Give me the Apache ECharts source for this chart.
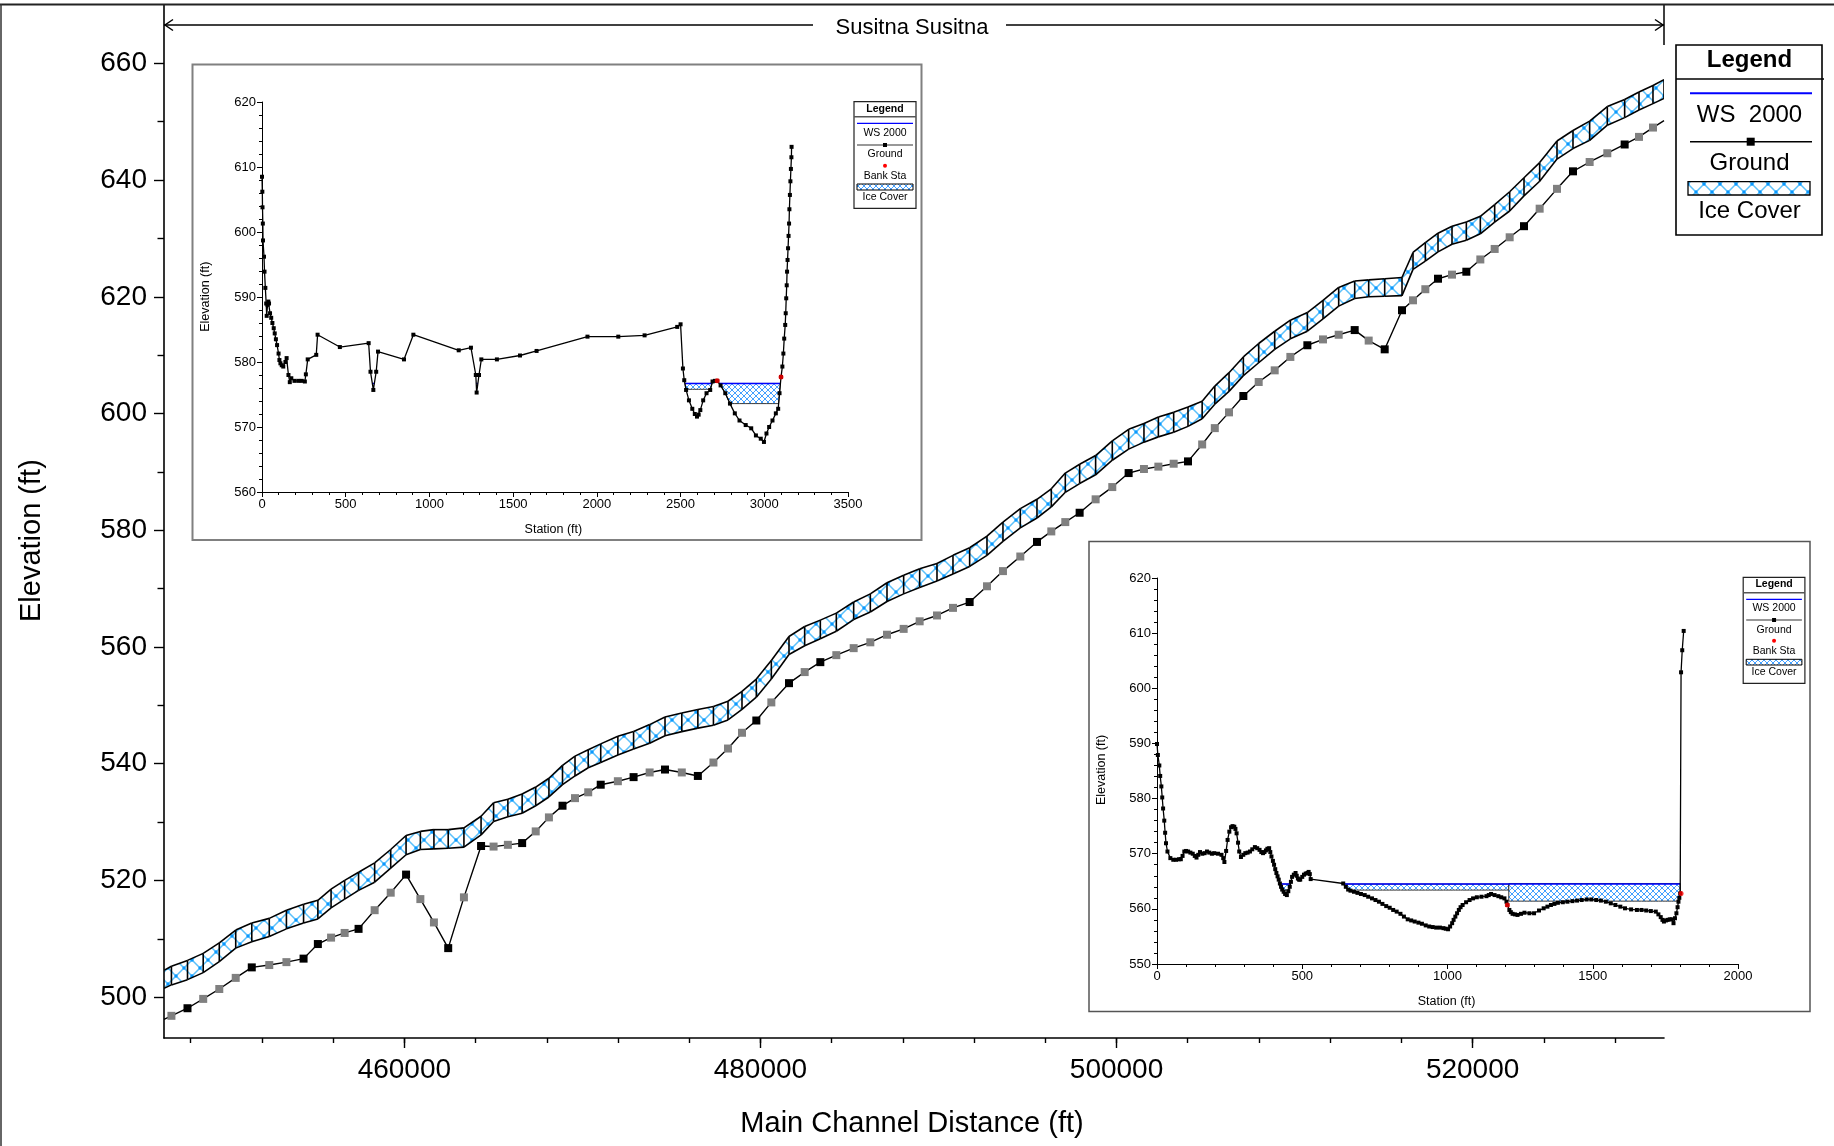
<!DOCTYPE html>
<html>
<head>
<meta charset="utf-8">
<title>Susitna ice cover profile</title>
<script src="https://cdn.jsdelivr.net/npm/echarts/dist/echarts.min.js"></script>
<style>
  html, body { margin: 0; padding: 0; background: #ffffff; }
  #chart { width: 1834px; height: 1146px; }
</style>
</head>
<body>
<div id="chart"></div>
<script>
const FONT = "'Liberation Sans', Arial, Helvetica, sans-serif";

// ---------- Main profile: Susitna reach ----------
// River stations of the cross sections (ft, main channel distance)
const stations = [
  446500, 446917, 447820, 448702, 449605, 450528, 451430, 452413, 453376, 454339,
  455142, 455884, 456646, 457428, 458331, 459234, 460096, 460899, 461661, 462463,
  463346, 464309, 465011, 465814, 466616, 467378, 468120, 468883, 469585, 470327,
  471029, 471992, 472875, 473777, 474640, 475583, 476485, 477360, 478178, 478964,
  479769, 480612, 481604, 482484, 483364, 484262, 485236, 486172, 487108, 488044,
  488942, 489916, 490814, 491750, 492724, 493622, 494596, 495532, 496337, 497123,
  497928, 498826, 499762, 500680, 501541, 502350, 503210, 504015, 504810, 505520,
  506319, 507124, 507985, 508884, 509764, 510719, 511598, 512478, 513377, 514163,
  515062, 516035, 516653, 517345, 518057, 518843, 519648, 520434, 521239, 522082,
  522887, 523766, 524740, 525638, 526574, 527566, 528540, 529345, 530131, 530750
];
// Minimum channel (ground) elevation at each section (ft)
const groundElev = [
  496.2, 496.8, 498.1, 499.7, 501.4, 503.3, 505.1, 505.5, 506.0, 506.6,
  509.1, 510.2, 511.0, 511.7, 514.9, 517.9, 521.0, 516.8, 512.8, 508.4,
  517.1, 525.9, 525.8, 526.1, 526.4, 528.4, 530.8, 532.8, 534.1, 535.1,
  536.4, 537.0, 537.7, 538.5, 539.0, 538.5, 537.9, 540.2, 542.6, 545.3,
  547.4, 550.5, 553.8, 555.7, 557.4, 558.6, 559.8, 560.8, 562.1, 563.1,
  564.4, 565.4, 566.7, 567.7, 570.4, 573.0, 575.5, 578.0, 579.8, 581.4,
  583.0, 585.3, 587.4, 589.8, 590.5, 590.9, 591.4, 591.8, 594.7, 597.5,
  600.2, 603.0, 605.4, 607.4, 609.7, 611.7, 612.7, 613.5, 614.3, 612.5,
  611.0, 617.7, 619.4, 621.3, 623.1, 623.8, 624.3, 626.4, 628.2, 630.2,
  632.1, 635.1, 638.5, 641.5, 643.1, 644.6, 646.1, 647.4, 649.0, 650.2
];
// Top of ice cover (ft)
const iceTopElev = [
  504.6, 505.3, 506.3, 507.5, 509.3, 511.5, 512.7, 513.5, 514.9, 515.9,
  516.6, 518.5, 520.0, 521.4, 523.0, 525.3, 527.7, 528.4, 528.7, 528.7,
  529.0, 531.0, 533.3, 533.9, 534.8, 536.0, 537.5, 539.7, 541.3, 542.4,
  543.4, 544.7, 545.5, 546.7, 548.0, 548.7, 549.3, 549.8, 550.7, 552.4,
  554.5, 557.7, 561.8, 563.5, 564.6, 565.8, 567.7, 569.1, 571.0, 572.3,
  573.4, 574.3, 575.7, 577.0, 579.0, 581.4, 583.7, 585.3, 587.1, 589.8,
  591.3, 592.8, 595.3, 597.3, 598.3, 599.4, 600.2, 601.1, 602.1, 604.7,
  607.0, 609.7, 612.0, 614.1, 616.0, 617.3, 619.4, 621.6, 622.7, 622.9,
  623.1, 623.3, 627.6, 629.3, 630.9, 632.1, 632.8, 633.8, 635.8, 638.0,
  640.4, 643.0, 646.7, 648.5, 650.1, 652.6, 653.8, 655.1, 656.2, 657.2
];
// Bottom of ice cover (ft)
const iceBottomElev = [
  501.5, 502.1, 503.0, 504.2, 506.1, 508.4, 509.5, 510.4, 511.7, 512.7,
  513.4, 515.3, 516.8, 518.3, 519.7, 522.1, 524.4, 525.3, 525.4, 525.5,
  525.7, 527.8, 530.1, 530.9, 531.5, 532.8, 534.3, 536.4, 537.9, 539.3,
  540.2, 541.5, 542.5, 543.5, 544.8, 545.5, 546.1, 546.6, 547.5, 549.3,
  551.4, 554.5, 558.7, 560.2, 561.4, 562.7, 564.7, 566.0, 567.8, 569.1,
  570.2, 571.3, 572.5, 573.8, 575.7, 578.1, 580.4, 582.1, 584.0, 586.5,
  588.0, 589.5, 592.0, 593.9, 595.1, 596.0, 596.8, 597.8, 599.1, 601.6,
  603.8, 606.5, 608.7, 611.0, 612.8, 614.1, 616.2, 618.4, 619.7, 620.0,
  620.1, 620.2, 624.7, 626.1, 627.7, 629.0, 629.7, 630.8, 632.8, 634.7,
  637.3, 639.8, 643.6, 645.4, 646.8, 649.4, 650.7, 652.0, 653.1, 654.0
];
// Surveyed sections (the rest are interpolated sections)
const surveyedSections = [2, 6, 9, 10, 13, 16, 19, 21, 24, 27, 30, 32, 34, 36, 40, 42, 44,
  53, 57, 60, 63, 67, 71, 75, 78, 80, 81, 84, 86, 90, 93, 96];

const xRange = [446500, 530750];
const yRange = [493, 670];
const xLabelTicks = [460000, 480000, 500000, 520000];
const yLabelTicks = [500, 520, 540, 560, 580, 600, 620, 640, 660];
const reachName = 'Susitna Susitna';

// ---------- Cross section A (upper inset) ----------
const xsA_station = [
  0, 2, 3, 5, 6, 12, 15, 20, 25, 28, 33, 38, 42, 48, 55, 62, 70, 76, 83, 90,
  99, 104, 110, 118, 127, 140, 147, 158, 166, 175, 194, 217, 237, 256, 262, 273, 324, 332, 465, 637,
  648, 665, 682, 693, 848, 904, 1175, 1248, 1277, 1282, 1296, 1310, 1403, 1541, 1640, 1944, 2128, 2285, 2480, 2500,
  2514, 2522, 2533, 2550, 2570, 2585, 2598, 2608, 2618, 2635, 2655, 2677, 2691, 2705, 2719, 2739, 2767, 2795, 2824, 2852,
  2889, 2922, 2950, 2979, 2998, 3013, 3029, 3049, 3069, 3083, 3091, 3100, 3108, 3114, 3119, 3125, 3128, 3131, 3134, 3136,
  3139, 3142, 3145, 3148, 3150, 3153, 3156, 3159, 3162, 3163
];
const xsA_elev = [
  608.5, 606.2, 603.8, 601.3, 598.7, 596.2, 593.9, 591.4, 589.0, 587.1, 588.8, 589.3, 589.0, 587.5, 586.8, 586.0, 585.2, 584.4, 583.5, 582.6,
  581.3, 580.3, 579.8, 579.5, 579.3, 580.0, 580.6, 578.0, 576.9, 577.5, 577.1, 577.1, 577.1, 577.0, 578.1, 580.4, 581.1, 584.2, 582.3, 582.9,
  578.5, 575.7, 578.5, 581.6, 580.4, 584.2, 581.8, 582.2, 578.0, 575.3, 578.0, 580.4, 580.4, 581.0, 581.7, 583.9, 583.9, 584.1, 585.4, 585.8,
  579.0, 577.2, 575.7, 574.1, 572.8, 572.0, 571.6, 571.9, 572.6, 574.1, 575.2, 575.7, 577.0, 577.1, 577.1, 576.4, 575.2, 573.6, 572.1, 571.0,
  570.3, 569.8, 568.7, 568.2, 567.7, 569.0, 570.0, 571.0, 572.1, 572.8, 575.2, 577.7, 579.3, 581.3, 583.6, 585.7, 587.5, 589.8, 591.8, 593.9,
  595.7, 597.5, 599.4, 601.3, 603.5, 605.7, 607.8, 609.7, 611.5, 613.1
];
const xsA_bankSta = [[2719, 577.1], [3100, 577.7]];
const xsA_ws = 576.7;
// Ice sheets: [from station, to station, top elevation, bottom elevation]
const xsA_ice = [[2522, 2700, 576.7, 575.8], [2705, 3100, 576.7, 573.6]];
const xsA_xTicks = [0, 3500, 500];
const xsA_yTicks = [560, 620, 10];

// ---------- Cross section B (lower inset) ----------
const xsB_station = [
  0, 3, 8, 11, 15, 18, 21, 25, 28, 31, 36, 46, 56, 66, 76, 82, 88, 94, 100, 107,
  115, 123, 130, 136, 142, 148, 156, 164, 172, 180, 189, 197, 210, 222, 228, 232, 238, 243, 249, 255,
  260, 266, 270, 274, 279, 283, 289, 297, 304, 312, 320, 328, 337, 345, 353, 359, 365, 370, 375, 380,
  386, 390, 394, 399, 403, 407, 411, 415, 419, 423, 427, 431, 436, 441, 447, 452, 457, 461, 465, 471,
  477, 481, 485, 489, 493, 500, 506, 512, 518, 522, 526, 529, 641, 650, 658, 666, 678, 690, 702, 715,
  727, 740, 752, 764, 776, 789, 801, 813, 825, 838, 850, 863, 875, 887, 900, 912, 925, 937, 949, 961,
  974, 986, 994, 1002, 1009, 1016, 1021, 1027, 1033, 1039, 1045, 1052, 1064, 1076, 1088, 1101, 1117, 1134, 1142, 1150,
  1162, 1175, 1185, 1196, 1203, 1206, 1213, 1218, 1224, 1232, 1241, 1253, 1265, 1282, 1298, 1315, 1331, 1344, 1356, 1368,
  1380, 1397, 1413, 1430, 1446, 1462, 1479, 1495, 1512, 1528, 1545, 1562, 1578, 1595, 1611, 1632, 1652, 1668, 1684, 1700,
  1717, 1726, 1734, 1740, 1745, 1752, 1758, 1765, 1772, 1778, 1783, 1788, 1792, 1795, 1798, 1801, 1804, 1808, 1813
];
const xsB_elev = [
  589.9, 587.9, 586.0, 584.1, 582.2, 580.2, 578.2, 576.0, 573.8, 571.9, 570.4, 569.2, 568.9, 568.9, 569.0, 569.0, 569.6, 570.4, 570.5, 570.4,
  570.2, 570.0, 569.6, 569.3, 569.8, 570.3, 570.0, 570.1, 570.4, 570.2, 570.0, 570.1, 570.0, 569.8, 569.2, 568.5, 570.5, 572.5, 574.0, 574.8,
  575.0, 574.9, 574.5, 573.7, 572.0, 570.4, 569.4, 569.8, 570.1, 570.2, 570.4, 570.8, 571.2, 571.0, 570.7, 570.3, 570.1, 570.3, 570.6, 570.9,
  571.0, 570.3, 569.5, 568.7, 568.0, 567.2, 566.5, 565.9, 565.3, 564.6, 564.0, 563.5, 563.1, 562.7, 562.5, 563.2, 564.0, 564.9, 565.8, 566.2,
  566.5, 566.0, 565.5, 565.3, 565.3, 565.8, 566.2, 566.4, 566.5, 566.7, 566.3, 565.4, 564.6, 564.0, 563.5, 563.3, 563.1, 562.9, 562.7, 562.5,
  562.2, 561.9, 561.6, 561.3, 560.9, 560.5, 560.2, 559.8, 559.5, 559.1, 558.6, 558.1, 557.9, 557.7, 557.5, 557.3, 557.0, 556.8, 556.7, 556.6,
  556.6, 556.5, 556.4, 556.3, 556.8, 557.4, 558.0, 558.6, 559.2, 559.8, 560.3, 560.7, 561.2, 561.6, 561.9, 562.1, 562.2, 562.3, 562.5, 562.7,
  562.5, 562.3, 562.1, 561.9, 561.3, 560.7, 559.8, 559.4, 559.1, 559.0, 558.9, 559.1, 559.3, 559.2, 559.2, 559.7, 560.1, 560.4, 560.7, 560.9,
  561.1, 561.2, 561.3, 561.4, 561.5, 561.6, 561.7, 561.7, 561.6, 561.5, 561.3, 561.0, 560.7, 560.4, 560.1, 559.9, 559.8, 559.8, 559.7, 559.6,
  559.5, 559.0, 558.5, 558.0, 557.7, 557.9, 558.0, 558.1, 558.1, 557.4, 558.3, 559.2, 560.3, 561.3, 562.0, 562.8, 602.9, 606.9, 610.4
];
const xsB_bankSta = [[1206, 560.7], [1804, 562.8]];
const xsB_ws = 564.5;
const xsB_ice = [[400, 1211, 564.5, 563.4], [1211, 1801, 564.6, 561.4]];
const xsB_xTicks = [0, 2000, 500];
const xsB_yTicks = [550, 620, 10];

// ---------- helpers ----------
function makeHatch(size, lineColor, lineWidth, dotColor, dotR) {
  const c = document.createElement('canvas');
  c.width = size; c.height = size;
  const g = c.getContext('2d');
  g.fillStyle = '#ffffff';
  g.fillRect(0, 0, size, size);
  g.strokeStyle = lineColor;
  g.lineWidth = lineWidth;
  g.beginPath();
  for (const d of [-size, 0, size]) {
    g.moveTo(d, 0); g.lineTo(d + size, size);
    g.moveTo(d + size, 0); g.lineTo(d, size);
  }
  g.stroke();
  if (dotColor) {
    g.fillStyle = dotColor;
    for (const [px, py] of [[size / 2, size / 2], [0, 0], [size, 0], [0, size], [size, size]]) {
      g.beginPath(); g.arc(px, py, dotR, 0, Math.PI * 2); g.fill();
    }
  }
  return { image: c, repeat: 'repeat' };
}
const bigHatch = makeHatch(16, '#5cc0fa', 1.5, '#0a98ff', 1.7);
const smallHatch = makeHatch(6, '#2f95ff', 0.9, null, 0);

function groundAt(st, el, x) {
  for (let i = 0; i < st.length - 1; i++) {
    if (st[i + 1] > st[i] && x >= st[i] && x <= st[i + 1]) {
      return el[i] + (el[i + 1] - el[i]) * (x - st[i]) / (st[i + 1] - st[i]);
    }
  }
  return x < st[0] ? el[0] : el[el.length - 1];
}

// Outlines of an ice sheet in a cross section: flat top, underside follows
// the sheet bottom or the ground, whichever is higher. One outline per
// stretch where the sheet actually has thickness.
function iceOutlines(st, el, sheet) {
  const [from, to, top, bot] = sheet;
  const xs = new Set([from, to]);
  for (let i = 0; i < st.length; i++) if (st[i] > from && st[i] < to) xs.add(st[i]);
  for (let i = 0; i < st.length - 1; i++) {
    if (st[i + 1] <= st[i]) continue;
    for (const lvl of [top, bot]) {
      const a = el[i] - lvl, b = el[i + 1] - lvl;
      if (a * b < 0) {
        const x = st[i] + (st[i + 1] - st[i]) * a / (a - b);
        if (x > from && x < to) xs.add(x);
      }
    }
  }
  const sorted = Array.from(xs).sort((p, q) => p - q);
  const lower = sorted.map(x => [x, Math.min(top, Math.max(bot, groundAt(st, el, x)))]);
  const outlines = [];
  let run = null;
  for (let i = 0; i < lower.length - 1; i++) {
    const wet = lower[i][1] < top - 1e-6 || lower[i + 1][1] < top - 1e-6;
    if (wet) {
      if (!run) run = [lower[i]];
      run.push(lower[i + 1]);
    } else if (run) {
      outlines.push(run); run = null;
    }
  }
  if (run) outlines.push(run);
  return outlines.map(r => [[r[0][0], top], [r[r.length - 1][0], top]].concat(r.slice().reverse()));
}

// Water surface drawn only over the wetted parts of the section
function wsLine(st, el, ws) {
  const pts = [];
  for (let i = 0; i < st.length - 1; i++) {
    const a = el[i] - ws, b = el[i + 1] - ws;
    if ((a >= 0) !== (b >= 0)) {
      const x = st[i + 1] === st[i] ? st[i] : st[i] + (st[i + 1] - st[i]) * a / (a - b);
      pts.push([x, ws]);
      if (b >= 0) pts.push([x, '-']);
    }
  }
  return pts;
}

const N = stations.length;
const surveyed = new Set(surveyedSections);

// ---------- series ----------
const mainIce = {
  type: 'custom', xAxisIndex: 0, yAxisIndex: 0, z: 3, silent: true, clip: true,
  data: stations.map((s, i) => [s, iceTopElev[i], iceBottomElev[i]]),
  encode: { x: 0, y: [1, 2] },
  renderItem: function (params, api) {
    const i = params.dataIndex;
    const t0 = api.coord([stations[i], iceTopElev[i]]);
    const b0 = api.coord([stations[i], iceBottomElev[i]]);
    const kids = [];
    if (i < N - 1) {
      const t1 = api.coord([stations[i + 1], iceTopElev[i + 1]]);
      const b1 = api.coord([stations[i + 1], iceBottomElev[i + 1]]);
      kids.push({ type: 'polygon', z2: 1, shape: { points: [t0, t1, b1, b0] }, style: { fill: bigHatch, stroke: null } });
      kids.push({ type: 'polyline', z2: 10, shape: { points: [t0, t1] }, style: { stroke: '#000', lineWidth: 1.6, fill: null } });
      kids.push({ type: 'polyline', z2: 10, shape: { points: [b0, b1] }, style: { stroke: '#000', lineWidth: 1.6, fill: null } });
    }
    kids.push({ type: 'line', z2: 10, shape: { x1: t0[0], y1: t0[1], x2: b0[0], y2: b0[1] }, style: { stroke: '#000', lineWidth: 1.6 } });
    return { type: 'group', children: kids };
  }
};

const mainGround = {
  type: 'line', xAxisIndex: 0, yAxisIndex: 0, z: 4, silent: true,
  data: stations.map((s, i) => [s, groundElev[i]]),
  symbol: 'rect',
  showAllSymbol: true,
  symbolSize: (v, p) => (p.dataIndex === 0 || p.dataIndex === N - 1) ? 0 : 8,
  lineStyle: { color: '#000', width: 1.4 },
  itemStyle: { color: p => surveyed.has(p.dataIndex) ? '#000000' : '#808080', borderWidth: 0 },
  animation: false
};

function sectionSeries(axisIdx, st, el, ws, sheets, banks) {
  const outlines = [];
  sheets.forEach(s => iceOutlines(st, el, s).forEach(o => outlines.push(o)));
  return [
    {
      type: 'custom', xAxisIndex: axisIdx, yAxisIndex: axisIdx, z: 7, silent: true,
      data: outlines.map((o, k) => [o[0][0], o[0][1], k]),
      renderItem: function (params, api) {
        const pts = outlines[params.dataIndex].map(p => api.coord(p));
        return { type: 'polygon', shape: { points: pts }, style: { fill: smallHatch, stroke: '#222', lineWidth: 0.9 } };
      }
    },
    {
      type: 'line', xAxisIndex: axisIdx, yAxisIndex: axisIdx, z: 8, silent: true,
      data: wsLine(st, el, ws), symbol: 'none', connectNulls: false,
      lineStyle: { color: '#0000ff', width: 1.6 }
    },
    {
      type: 'line', xAxisIndex: axisIdx, yAxisIndex: axisIdx, z: 9, silent: true,
      data: st.map((s, i) => [s, el[i]]),
      symbol: 'rect', symbolSize: 4, showAllSymbol: true,
      lineStyle: { color: '#000', width: 1.3 },
      itemStyle: { color: '#000' }
    },
    {
      type: 'scatter', xAxisIndex: axisIdx, yAxisIndex: axisIdx, z: 10, silent: true,
      data: banks, symbol: 'circle', symbolSize: 5,
      itemStyle: { color: '#ff0000' }
    }
  ];
}

// ---------- axes ----------
function range(a, b, step) { const r = []; for (let v = a; v <= b + 1e-9; v += step) r.push(v); return r; }
const xMinorTicks = range(448000, 528000, 4000);
const yMinorTicks = range(510, 650, 20);

const axisLine = { show: true, lineStyle: { color: '#000', width: 1.6 } };
const mainLabel = { fontSize: 28, fontFamily: FONT, color: '#000' };

function sectionAxis(gridIndex, ticks) {
  return {
    gridIndex, type: 'value', min: ticks[0], max: ticks[1], interval: ticks[2], z: 6,
    axisLine: { show: true, onZero: false, lineStyle: { color: '#000', width: 1 } },
    axisTick: { show: true, length: 5, lineStyle: { color: '#000', width: 1 } },
    minorTick: { show: true, splitNumber: 5, length: 3, lineStyle: { color: '#000', width: 1 } },
    axisLabel: { fontSize: 13, fontFamily: FONT, color: '#000', margin: 6, showMinLabel: true, showMaxLabel: true,
      formatter: v => String(v) },
    splitLine: { show: false }, minorSplitLine: { show: false }
  };
}

const xAxes = [
  {
    gridIndex: 0, type: 'value', min: xRange[0], max: xRange[1], position: 'bottom',
    axisLine,
    axisTick: { show: true, customValues: xLabelTicks, length: 10, lineStyle: { color: '#000', width: 1.4 } },
    axisLabel: Object.assign({ customValues: xLabelTicks, margin: 18, formatter: v => String(v) }, mainLabel),
    splitLine: { show: false }
  },
  {
    gridIndex: 0, type: 'value', min: xRange[0], max: xRange[1], position: 'bottom',
    axisLine: { show: false },
    axisTick: { show: true, customValues: xMinorTicks, length: 5, lineStyle: { color: '#000', width: 1.4 } },
    axisLabel: { show: false }, splitLine: { show: false }
  },
  sectionAxis(1, xsA_xTicks),
  sectionAxis(2, xsB_xTicks)
];
const yAxes = [
  {
    gridIndex: 0, type: 'value', min: yRange[0], max: yRange[1], position: 'left',
    axisLine,
    axisTick: { show: true, customValues: yLabelTicks, length: 10, lineStyle: { color: '#000', width: 1.4 } },
    axisLabel: Object.assign({ customValues: yLabelTicks, margin: 17, formatter: v => String(v) }, mainLabel),
    splitLine: { show: false }
  },
  {
    gridIndex: 0, type: 'value', min: yRange[0], max: yRange[1], position: 'left',
    axisLine: { show: false },
    axisTick: { show: true, customValues: yMinorTicks, length: 6.5, lineStyle: { color: '#000', width: 1.4 } },
    axisLabel: { show: false }, splitLine: { show: false }
  },
  sectionAxis(1, xsA_yTicks),
  sectionAxis(2, xsB_yTicks)
];

// ---------- annotations (titles, legends, frames) ----------
function text(str, x, y, size, opt) {
  opt = opt || {};
  const font = (opt.bold ? 'bold ' : '') + size + 'px ' + FONT;
  return {
    type: 'text', x: x, y: y, rotation: opt.rot || 0, z: opt.z || 20, silent: true,
    style: { text: str, x: 0, y: 0, font: font, fill: '#000',
      align: 'center', verticalAlign: 'middle', textAlign: 'center', textVerticalAlign: 'middle' }
  };
}
function seg(x1, y1, x2, y2, color, w, z) {
  return { type: 'line', z: z || 20, silent: true, shape: { x1, y1, x2, y2 }, style: { stroke: color, lineWidth: w } };
}
function box(x, y, w, h, fill, stroke, lw, z) {
  return { type: 'rect', z: z || 20, silent: true, shape: { x, y, width: w, height: h }, style: { fill, stroke, lineWidth: lw } };
}
function poly(points, color, w, z) {
  return { type: 'polyline', z: z || 20, silent: true, shape: { points }, style: { stroke: color, lineWidth: w, fill: null } };
}
function dot(cx, cy, r, color, z) {
  return { type: 'circle', z: z || 20, silent: true, shape: { cx, cy, r }, style: { fill: color } };
}

function sectionLegend(x, y, w, h, rows, z) {
  const cx = x + w / 2;
  const els = [box(x, y, w, h, '#fff', '#222', 1.2, z)];
  els.push(text('Legend', cx, rows.title, 10.5, { bold: true, z: z + 1 }));
  els.push(seg(x, rows.sep, x + w, rows.sep, '#555', 1.5, z + 1));
  els.push(seg(x + 3, rows.ws, x + w - 3, rows.ws, '#0000ff', 1.2, z + 1));
  els.push(text('WS 2000', cx, rows.wsText, 10.5, { z: z + 1 }));
  els.push(seg(x + 3, rows.gr, x + w - 3, rows.gr, '#333', 1.2, z + 1));
  els.push(box(cx - 2, rows.gr - 2, 4, 4, '#000', null, 0, z + 2));
  els.push(text('Ground', cx, rows.grText, 10.5, { z: z + 1 }));
  els.push(dot(cx, rows.bank, 2, '#ff0000', z + 1));
  els.push(text('Bank Sta', cx, rows.bankText, 10.5, { z: z + 1 }));
  els.push(box(x + 3, rows.ice, w - 6, rows.iceH, smallHatch, '#000', 1, z + 1));
  els.push(text('Ice Cover', cx, rows.iceText, 10.5, { z: z + 1 }));
  return els;
}

const graphics = [
  // outer frame
  seg(0, 4.5, 1834, 4.5, '#222', 2, 30),
  seg(1, 4, 1, 1146, '#333', 1.5, 30),
  // reach label
  seg(164, 25, 813, 25, '#000', 1.5), seg(1006, 25, 1664, 25, '#000', 1.5),
  poly([[173, 19.5], [165, 25], [173, 30.5]], '#000', 1.5),
  poly([[1655, 19.5], [1663, 25], [1655, 30.5]], '#000', 1.5),
  seg(1664, 5, 1664, 45, '#000', 1.5),
  text(reachName, 912, 28, 22),
  // axis titles
  text('Elevation (ft)', 31.7, 540.6, 29, { rot: Math.PI / 2 }),
  text('Main Channel Distance (ft)', 912, 1124, 29),
  // main legend
  box(1676, 45, 146, 190, '#fff', '#000', 1.6),
  text('Legend', 1749.5, 60, 24, { bold: true }),
  seg(1676, 79, 1824, 79, '#000', 1.6),
  seg(1690, 93.3, 1812, 93.3, '#0000ff', 2),
  text('WS  2000', 1749.5, 115, 24),
  seg(1690, 141.7, 1812, 141.7, '#000', 1.5),
  box(1746.7, 137.7, 8, 8, '#000', null, 0, 21),
  text('Ground', 1749.5, 163.3, 24),
  box(1688, 181.7, 122, 13.3, bigHatch, '#000', 1.3),
  text('Ice Cover', 1749.5, 211.7, 24),
  // cross section frames
  box(192.5, 64.5, 729, 475.5, '#fff', '#808080', 2, 1),
  box(1089, 541.5, 721, 470, '#fff', '#555', 1.5, 1),
  text('Station (ft)', 553.4, 530, 12.5, { z: 12 }),
  text('Elevation (ft)', 205.6, 296.7, 12.5, { rot: Math.PI / 2, z: 12 }),
  text('Station (ft)', 1446.6, 1001.7, 12.5, { z: 12 }),
  text('Elevation (ft)', 1101.7, 770, 12.5, { rot: Math.PI / 2, z: 12 })
].concat(
  sectionLegend(854, 101.7, 62, 106.6,
    { title: 108.8, sep: 116.7, ws: 123.3, wsText: 133.3, gr: 145, grText: 154.3, bank: 165.7, bankText: 176, ice: 184, iceH: 6, iceText: 197.3 }, 12),
  sectionLegend(1743.2, 577.3, 61.7, 106,
    { title: 584.3, sep: 592.7, ws: 599.3, wsText: 608.3, gr: 620, grText: 630, bank: 640.7, bankText: 651, ice: 659.3, iceH: 5.7, iceText: 672.3 }, 12)
);

const option = {
  backgroundColor: '#ffffff',
  animation: false,
  grid: [
    { left: 164, top: 5, width: 1500, height: 1033 },
    { left: 262, top: 102, width: 586, height: 390 },
    { left: 1157, top: 578, width: 581, height: 386 }
  ],
  xAxis: xAxes,
  yAxis: yAxes,
  series: [mainIce, mainGround]
    .concat(sectionSeries(2, xsA_station, xsA_elev, xsA_ws, xsA_ice, xsA_bankSta))
    .concat(sectionSeries(3, xsB_station, xsB_elev, xsB_ws, xsB_ice, xsB_bankSta)),
  graphic: { elements: graphics }
};

const chart = echarts.init(document.getElementById('chart'), null, { renderer: 'canvas' });
chart.setOption(option);
</script>
</body>
</html>
